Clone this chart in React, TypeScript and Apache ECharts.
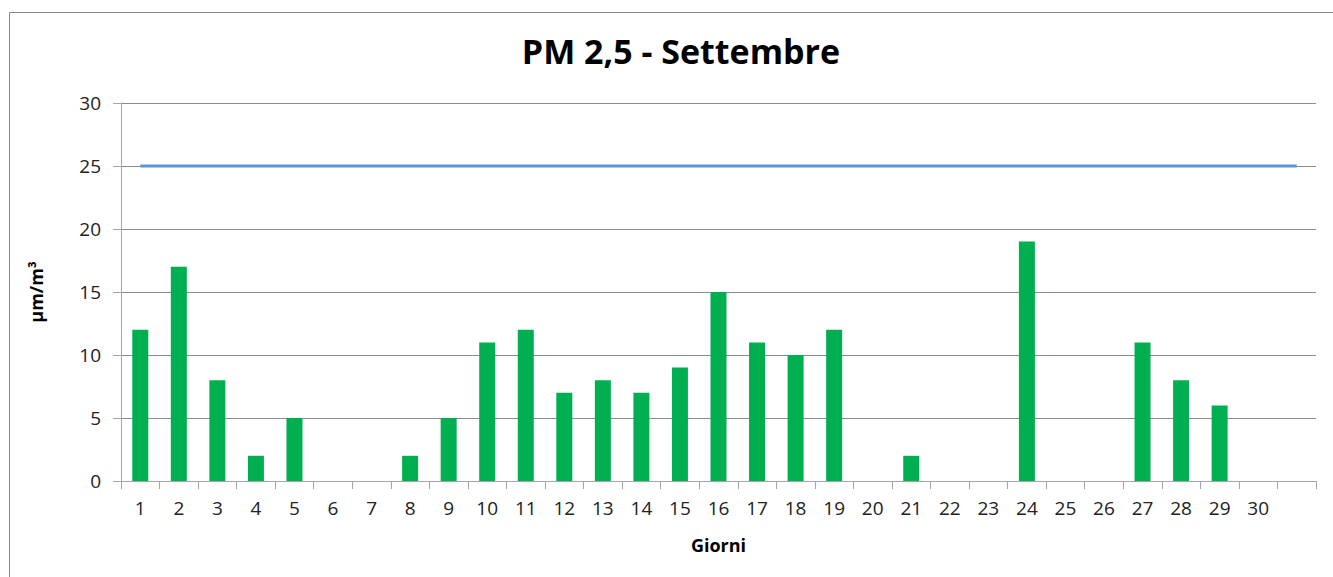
import React, { useEffect, useRef } from "react";
import * as echarts from "echarts";

const days = ["1","2","3","4","5","6","7","8","9","10","11","12","13","14","15","16","17","18","19","20","21","22","23","24","25","26","27","28","29","30",""];
const pm25 = [12,17,8,2,5,null,null,2,5,11,12,7,8,7,9,15,11,10,12,null,2,null,null,19,null,null,11,8,6,null,null];
const limit = [25,25,25,25,25,25,25,25,25,25,25,25,25,25,25,25,25,25,25,25,25,25,25,25,25,25,25,25,25,25,25];

const FONT = "'Open Sans', 'Noto Sans', sans-serif";

export default function App() {
  const ref = useRef<HTMLDivElement>(null);
  useEffect(() => {
    const chart = echarts.init(ref.current!, null, { renderer: "svg" });
    chart.setOption({
      animation: false,
      backgroundColor: "#fff",
      textStyle: { fontFamily: FONT },
      title: {
        text: "PM 2,5 - Settembre",
        left: 676,
        top: 29,
        textAlign: "center",
        textStyle: { fontSize: 34, fontWeight: "bold", color: "#000", fontFamily: FONT },
      },
      grid: { left: 121, right: 17, top: 103, bottom: 96, containLabel: false },
      xAxis: {
        type: "category",
        data: days,
        name: "Giorni",
        nameLocation: "middle",
        nameGap: 55,
        nameTextStyle: { fontSize: 18, fontWeight: "bold", color: "#000", fontFamily: FONT },
        axisLine: { lineStyle: { color: "#a6a6a6", width: 1 } },
        axisTick: { show: true, length: 8, alignWithLabel: false, lineStyle: { color: "#a6a6a6" } },
        axisLabel: { fontSize: 19, color: "#222", margin: 17, interval: 0, fontFamily: FONT },
        splitLine: { show: false },
      },
      yAxis: {
        type: "value",
        min: 0,
        max: 30,
        interval: 5,
        name: "µm/m³",
        nameLocation: "middle",
        nameGap: 76,
        nameRotate: 90,
        nameTextStyle: { fontSize: 18, fontWeight: "bold", color: "#000", fontFamily: FONT },
        axisLine: { show: true, lineStyle: { color: "#a6a6a6" } },
        axisTick: { show: true, length: 8, inside: false, lineStyle: { color: "#a6a6a6" } },
        axisLabel: { fontSize: 19, color: "#222", margin: 20, fontFamily: FONT },
        splitLine: { show: true, lineStyle: { color: "#8c8c8c", width: 1 } },
      },
      series: [
        {
          type: "bar",
          data: pm25,
          barWidth: 16,
          itemStyle: { color: "#00B050" },
        },
        {
          type: "line",
          data: limit,
          symbol: "none",
          lineStyle: { color: "#5B95D5", width: 3 },
          z: 3,
        },
      ],
      graphic: [
        { type: "line", shape: { x1: 9.5, y1: 12.5, x2: 1333, y2: 12.5 }, style: { stroke: "#888", lineWidth: 1 } },
        { type: "line", shape: { x1: 9.5, y1: 12.5, x2: 9.5, y2: 577 }, style: { stroke: "#888", lineWidth: 1 } },
      ],
    });
    return () => chart.dispose();
  }, []);
  return (
    <div
      ref={ref}
      style={{ position: "fixed", left: 0, top: 0, width: 1333, height: 577 }}
    />
  );
}
